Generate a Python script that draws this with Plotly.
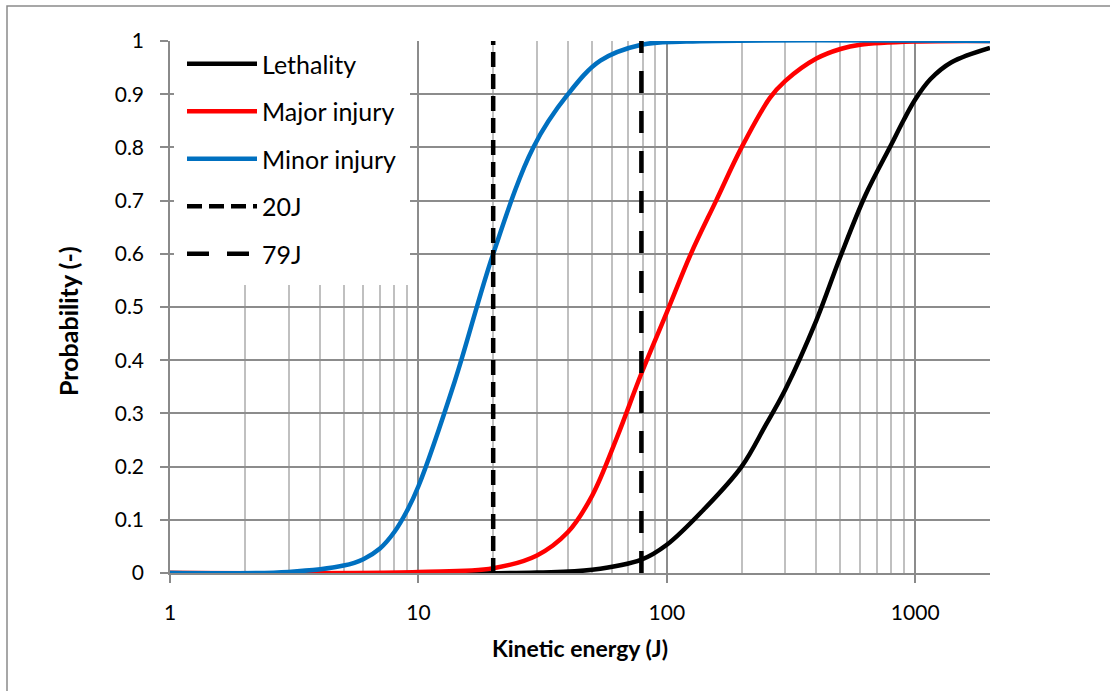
import plotly.graph_objects as go

# Kinetic energy (J) and probability
energy_lethality = [1, 30, 50, 79, 100, 140, 200, 250, 300, 400, 500, 630, 800, 900, 1000, 1150, 1400, 2000]
prob_lethality = [0, 0.001, 0.006, 0.025, 0.053, 0.118, 0.20, 0.278, 0.345, 0.475, 0.595, 0.71,
                  0.805, 0.852, 0.89, 0.928, 0.96, 0.987]

energy_major = [1, 10, 20, 30, 40, 50, 63, 79, 100, 125, 158, 200, 260, 300, 400, 500, 600, 1000, 2000]
prob_major = [0, 0.002, 0.009, 0.033, 0.077, 0.145, 0.255, 0.375, 0.49, 0.60, 0.70, 0.80, 0.893,
              0.925, 0.967, 0.985, 0.993, 0.999, 1]

energy_minor = [1, 3, 5, 6, 7, 8, 9, 10, 14, 20, 29, 40, 54, 79, 120, 2000]
prob_minor = [0, 0.002, 0.014, 0.026, 0.046, 0.077, 0.117, 0.163, 0.36, 0.60, 0.80, 0.90, 0.963,
              0.993, 0.999, 1]

# Reference energy thresholds (J)
threshold_20 = 20
threshold_79 = 79

x_ticks = [1, 10, 100, 1000]
x_minor = [m * d for d in (1, 10, 100) for m in range(2, 10)] + [2000]
y_ticks = [round(0.1 * i, 1) for i in range(11)]
y_labels = ["0", "0.1", "0.2", "0.3", "0.4", "0.5", "0.6", "0.7", "0.8", "0.9", "1"]

FONT = "Lato"
W, H = 1110, 691
L, R, T, B = 170, 120, 41, 118

fig = go.Figure()

curves = [
    ("Lethality", energy_lethality, prob_lethality, "#000000"),
    ("Major injury", energy_major, prob_major, "#FF0000"),
    ("Minor injury", energy_minor, prob_minor, "#0070C0"),
]
for name, xs, ys, color in curves:
    fig.add_trace(go.Scatter(
        x=xs, y=ys, name=name, mode="lines", legendgroup=name,
        line=dict(color=color, width=4.5, shape="spline", smoothing=1.0),
    ))

fig.add_trace(go.Scatter(
    x=[threshold_20, threshold_20], y=[0, 1], name="20J", mode="lines", legendgroup="20J",
    line=dict(color="#000000", width=4.5, dash="15px,7px"),
))
fig.add_trace(go.Scatter(
    x=[threshold_79, threshold_79], y=[0, 1], name="79J", mode="lines", legendgroup="79J",
    line=dict(color="#000000", width=4.5, dash="22px,18px"),
))


def px_to_paper_x(px):
    return (px - L) / (W - L - R)


def px_to_paper_y(py):
    return (H - B - py) / (H - T - B)


# outer chart frame
fig.add_shape(type="rect", xref="paper", yref="paper",
              x0=px_to_paper_x(7), x1=px_to_paper_x(1125),
              y0=px_to_paper_y(710), y1=px_to_paper_y(6),
              line=dict(color="#8A8A8A", width=1.5), fillcolor="rgba(0,0,0,0)", layer="below")

# axis titles
fig.add_annotation(text="<b>Kinetic energy (J)</b>", xref="paper", yref="paper",
                   x=px_to_paper_x(580), y=px_to_paper_y(648), xanchor="center", yanchor="middle",
                   showarrow=False, font=dict(family=FONT, size=23, color="#000000"))
fig.add_annotation(text="<b>Probability (-)</b>", xref="paper", yref="paper",
                   x=px_to_paper_x(68), y=px_to_paper_y(321), xanchor="center", yanchor="middle",
                   textangle=-90, showarrow=False, font=dict(family=FONT, size=25, color="#000000"))

fig.update_layout(
    width=W, height=H,
    margin=dict(l=L, r=R, t=T, b=B, autoexpand=False),
    paper_bgcolor="white", plot_bgcolor="white",
    font=dict(family=FONT, color="#000000", size=20),
    showlegend=True,
    legend=dict(
        x=px_to_paper_x(174), y=px_to_paper_y(33), xanchor="left", yanchor="top",
        bgcolor="white", bordercolor="white", borderwidth=8,
        font=dict(family=FONT, size=25, color="#000000"),
        tracegroupgap=12, itemwidth=70,
    ),
    xaxis=dict(
        type="log", range=[0, 3.30103],
        tickmode="array", tickvals=x_ticks, ticktext=[str(v) for v in x_ticks],
        ticks="outside", ticklen=8, tickwidth=1.5, tickcolor="#8A8A8A",
        showline=True, linecolor="#8A8A8A", linewidth=1.5,
        showgrid=True, gridcolor="#8C8C8C", gridwidth=1.5,
        minor=dict(tickmode="array", tickvals=x_minor, showgrid=True,
                   gridcolor="#C0C0C0", gridwidth=1.5, ticks=""),
        tickfont=dict(family=FONT, size=21),
        ticklabelstandoff=12,
        zeroline=False,
    ),
    yaxis=dict(
        range=[0, 1],
        tickmode="array", tickvals=y_ticks, ticktext=y_labels,
        ticks="outside", ticklen=8, tickwidth=1.5, tickcolor="#8A8A8A",
        showline=True, linecolor="#8A8A8A", linewidth=1.5,
        showgrid=True, gridcolor="#8C8C8C", gridwidth=1.5,
        tickfont=dict(family=FONT, size=21),
        ticklabelstandoff=12,
        zeroline=False,
    ),
)

fig.write_html("out.html")
